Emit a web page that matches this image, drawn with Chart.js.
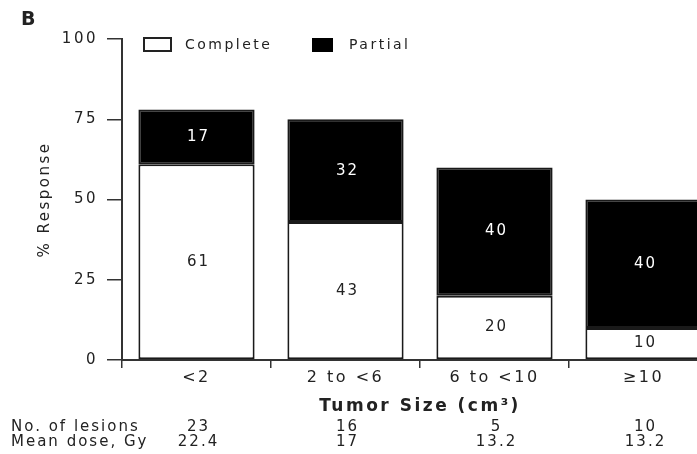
<!DOCTYPE html>
<html lang="en">
<head>
<meta charset="UTF-8">
<title>Response by Tumor Size</title>
<style>
    html, body { margin: 0; padding: 0; background: #fff; overflow: hidden; }
    #wrap { width: 697px; height: 454px; overflow: hidden; }
</style>
</head>
<body>
<div id="wrap"><canvas id="responseChart" width="730" height="454"></canvas></div>

<script src="https://cdn.jsdelivr.net/npm/chart.js"></script>
<script>
    // data
    const sizes = ['<2', '2 to <6', '6 to <10', '\u226510'];
    const complete = [61, 43, 20, 10];
    const partial = [17, 32, 40, 40];
    const lesions = ['23', '16', '5', '10'];
    const meanDose = ['22.4', '17', '13.2', '13.2'];
    const yTicks = [0, 25, 50, 75, 100];

    const FONT = "'DejaVu Sans', 'Liberation Sans', sans-serif";
    const INK = '#222';
    const SPACING = '2.5px';

    Chart.defaults.font.family = FONT;
    Chart.defaults.color = INK;

    // wide lettering like the scanned figure
    const spacingPlugin = {
        id: 'spacing',
        beforeDraw(chart) { chart.ctx.letterSpacing = SPACING; }
    };

    // numbers inside the bars, legend, panel letter and table below the axis
    const extrasPlugin = {
        id: 'extras',
        afterDatasetsDraw(chart) {
            const ctx = chart.ctx;
            ctx.save();
            ctx.letterSpacing = '2px';
            ctx.font = '15px ' + FONT;
            ctx.textAlign = 'center';
            ctx.textBaseline = 'middle';
            chart.data.datasets.forEach((ds, i) => {
                chart.getDatasetMeta(i).data.forEach((bar, j) => {
                    ctx.fillStyle = i === 1 ? '#fff' : INK;
                    ctx.fillText(String(ds.data[j]), bar.x + 2, (bar.y + bar.base) / 2);
                });
            });
            ctx.restore();
        },
        afterDraw(chart) {
            const ctx = chart.ctx;
            const x = chart.scales.x;
            ctx.save();
            ctx.letterSpacing = SPACING;
            ctx.fillStyle = INK;

            // panel letter
            ctx.font = 'bold 19px ' + FONT;
            ctx.textBaseline = 'middle';
            ctx.textAlign = 'left';
            ctx.fillText('B', 21, 20);

            // legend
            ctx.font = '14px ' + FONT;
            const ds = chart.data.datasets;
            ctx.lineWidth = 2;
            ctx.strokeStyle = INK;
            ctx.fillStyle = '#fff';
            ctx.fillRect(144, 38, 27, 13);
            ctx.strokeRect(144, 38, 27, 13);
            ctx.fillStyle = INK;
            ctx.fillText(ds[0].label, 185, 45);
            ctx.fillStyle = '#000';
            ctx.fillRect(312, 38, 21, 14);
            ctx.fillStyle = INK;
            ctx.fillText(ds[1].label, 349, 45);

            // table under the axis
            ctx.letterSpacing = '2px';
            ctx.font = '15px ' + FONT;
            ctx.textAlign = 'left';
            ctx.fillText('No. of lesions', 11, 427);
            ctx.fillText('Mean dose, Gy', 11, 442);
            ctx.textAlign = 'center';
            sizes.forEach((s, i) => {
                const px = x.getPixelForValue(i) + 2;
                ctx.fillText(lesions[i], px, 427);
                ctx.fillText(meanDose[i], px, 442);
            });
            ctx.restore();
        }
    };

    const ctx = document.getElementById('responseChart').getContext('2d');
    const responseChart = new Chart(ctx, {
        type: 'bar',
        data: {
            labels: sizes,
            datasets: [{
                label: 'Complete',
                data: complete,
                backgroundColor: '#fff',
                borderColor: '#1a1a1a',
                borderWidth: 2,
                borderSkipped: false
            }, {
                label: 'Partial',
                data: partial,
                backgroundColor: '#000',
                borderColor: '#1a1a1a',
                borderWidth: 2,
                borderSkipped: false
            }]
        },
        options: {
            responsive: false,
            animation: false,
            layout: { padding: { top: 39, right: 12, bottom: 0, left: 0 } },
            datasets: { bar: { barPercentage: 0.78, categoryPercentage: 1 } },
            plugins: {
                legend: { display: false },
                tooltip: { enabled: false }
            },
            scales: {
                x: {
                    stacked: true,
                    afterFit: (scale) => { scale.height = 94; },
                    border: { display: true, color: '#333', width: 2 },
                    grid: { drawOnChartArea: false, drawTicks: true, tickLength: 8, color: '#333', lineWidth: 1.5 },
                    ticks: { font: { size: 16 }, padding: 0, maxRotation: 0, autoSkip: false, color: INK },
                    title: {
                        display: true,
                        text: 'Tumor Size (cm\u00b3)',
                        font: { size: 17, weight: 'bold' },
                        color: INK,
                        padding: { top: 0, bottom: 37 }
                    }
                },
                y: {
                    stacked: true,
                    min: yTicks[0],
                    max: yTicks[yTicks.length - 1],
                    afterFit: (scale) => { scale.width = 122; },
                    afterBuildTicks: (scale) => { scale.ticks = yTicks.map(v => ({ value: v })); },
                    border: { display: true, color: '#333', width: 2 },
                    grid: { drawOnChartArea: false, drawTicks: true, tickLength: 15, color: '#333', lineWidth: 1.5 },
                    ticks: { font: { size: 15 }, padding: 9, color: INK },
                    title: {
                        display: true,
                        text: '% Response',
                        font: { size: 15 },
                        color: INK,
                        padding: { top: 36, bottom: 0 }
                    }
                }
            }
        },
        plugins: [spacingPlugin, extrasPlugin]
    });
</script>
</body>
</html>
